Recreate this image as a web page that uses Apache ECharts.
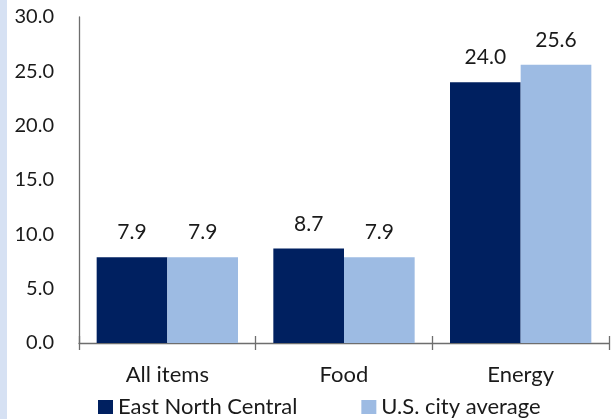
<!DOCTYPE html>
<html>
<head>
<meta charset="utf-8">
<script src="https://cdn.jsdelivr.net/npm/echarts@6/dist/echarts.min.js"></script>
<style>
  html, body { margin: 0; padding: 0; background: #ffffff; }
  #chart { width: 611px; height: 419px; }
</style>
</head>
<body>
<div id="chart"></div>
<script>
// Percent change, 12 months
const categories = ['All items', 'Food', 'Energy'];
const eastNorthCentral = [7.9, 8.7, 24.0];
const usCityAverage = [7.9, 7.9, 25.6];
const seriesNames = ['East North Central', 'U.S. city average'];
const yTicks = { min: 0, max: 30, step: 5 };

const FONT = 'Lato';
const TEXT = '#1a1a1a';
const AXIS = '#6e6e6e';

const chart = echarts.init(document.getElementById('chart'), null, { renderer: 'canvas' });

const labelStyle = {
  show: true,
  position: 'top',
  distance: 14,
  fontFamily: FONT,
  fontSize: 21,
  color: TEXT,
  formatter: p => p.value.toFixed(1)
};

chart.setOption({
  animation: false,
  backgroundColor: '#ffffff',
  graphic: [{
    type: 'rect',
    left: 0, top: 0,
    shape: { width: 7, height: 419 },
    style: { fill: '#d6e1f3' },
    silent: true
  }],
  grid: { left: 79, right: 2, top: 17, bottom: 76 },
  legend: {
    data: seriesNames,
    left: 93,
    top: 391,
    icon: 'rect',
    itemWidth: 15,
    itemHeight: 14,
    itemGap: 64,
    textStyle: { fontFamily: FONT, fontSize: 22, color: TEXT }
  },
  xAxis: [{
    type: 'category',
    data: categories,
    axisLine: { show: true, lineStyle: { color: AXIS, width: 1.3 } },
    axisTick: { show: true, length: 7, lineStyle: { color: AXIS, width: 1.3 } },
    axisLabel: { fontFamily: FONT, fontSize: 22, color: TEXT, margin: 21 }
  }, {
    type: 'category',
    data: categories,
    position: 'bottom',
    axisLine: { show: false },
    axisTick: { show: true, inside: true, length: 7, lineStyle: { color: AXIS, width: 1.3 } },
    axisLabel: { show: false }
  }],
  yAxis: {
    type: 'value',
    min: yTicks.min,
    max: yTicks.max,
    interval: yTicks.step,
    axisLine: { show: true, lineStyle: { color: AXIS, width: 1.3 } },
    axisTick: { show: false },
    splitLine: { show: false },
    axisLabel: {
      fontFamily: FONT, fontSize: 20, color: TEXT, margin: 25,
      formatter: v => v.toFixed(1)
    }
  },
  series: [{
    name: seriesNames[0],
    type: 'bar',
    data: eastNorthCentral,
    barGap: '0%',
    barCategoryGap: '20%',
    itemStyle: { color: '#002060' },
    label: labelStyle
  }, {
    name: seriesNames[1],
    type: 'bar',
    data: usCityAverage,
    barGap: '0%',
    barCategoryGap: '20%',
    itemStyle: { color: '#9dbbe3' },
    label: labelStyle
  }]
});
</script>
</body>
</html>
